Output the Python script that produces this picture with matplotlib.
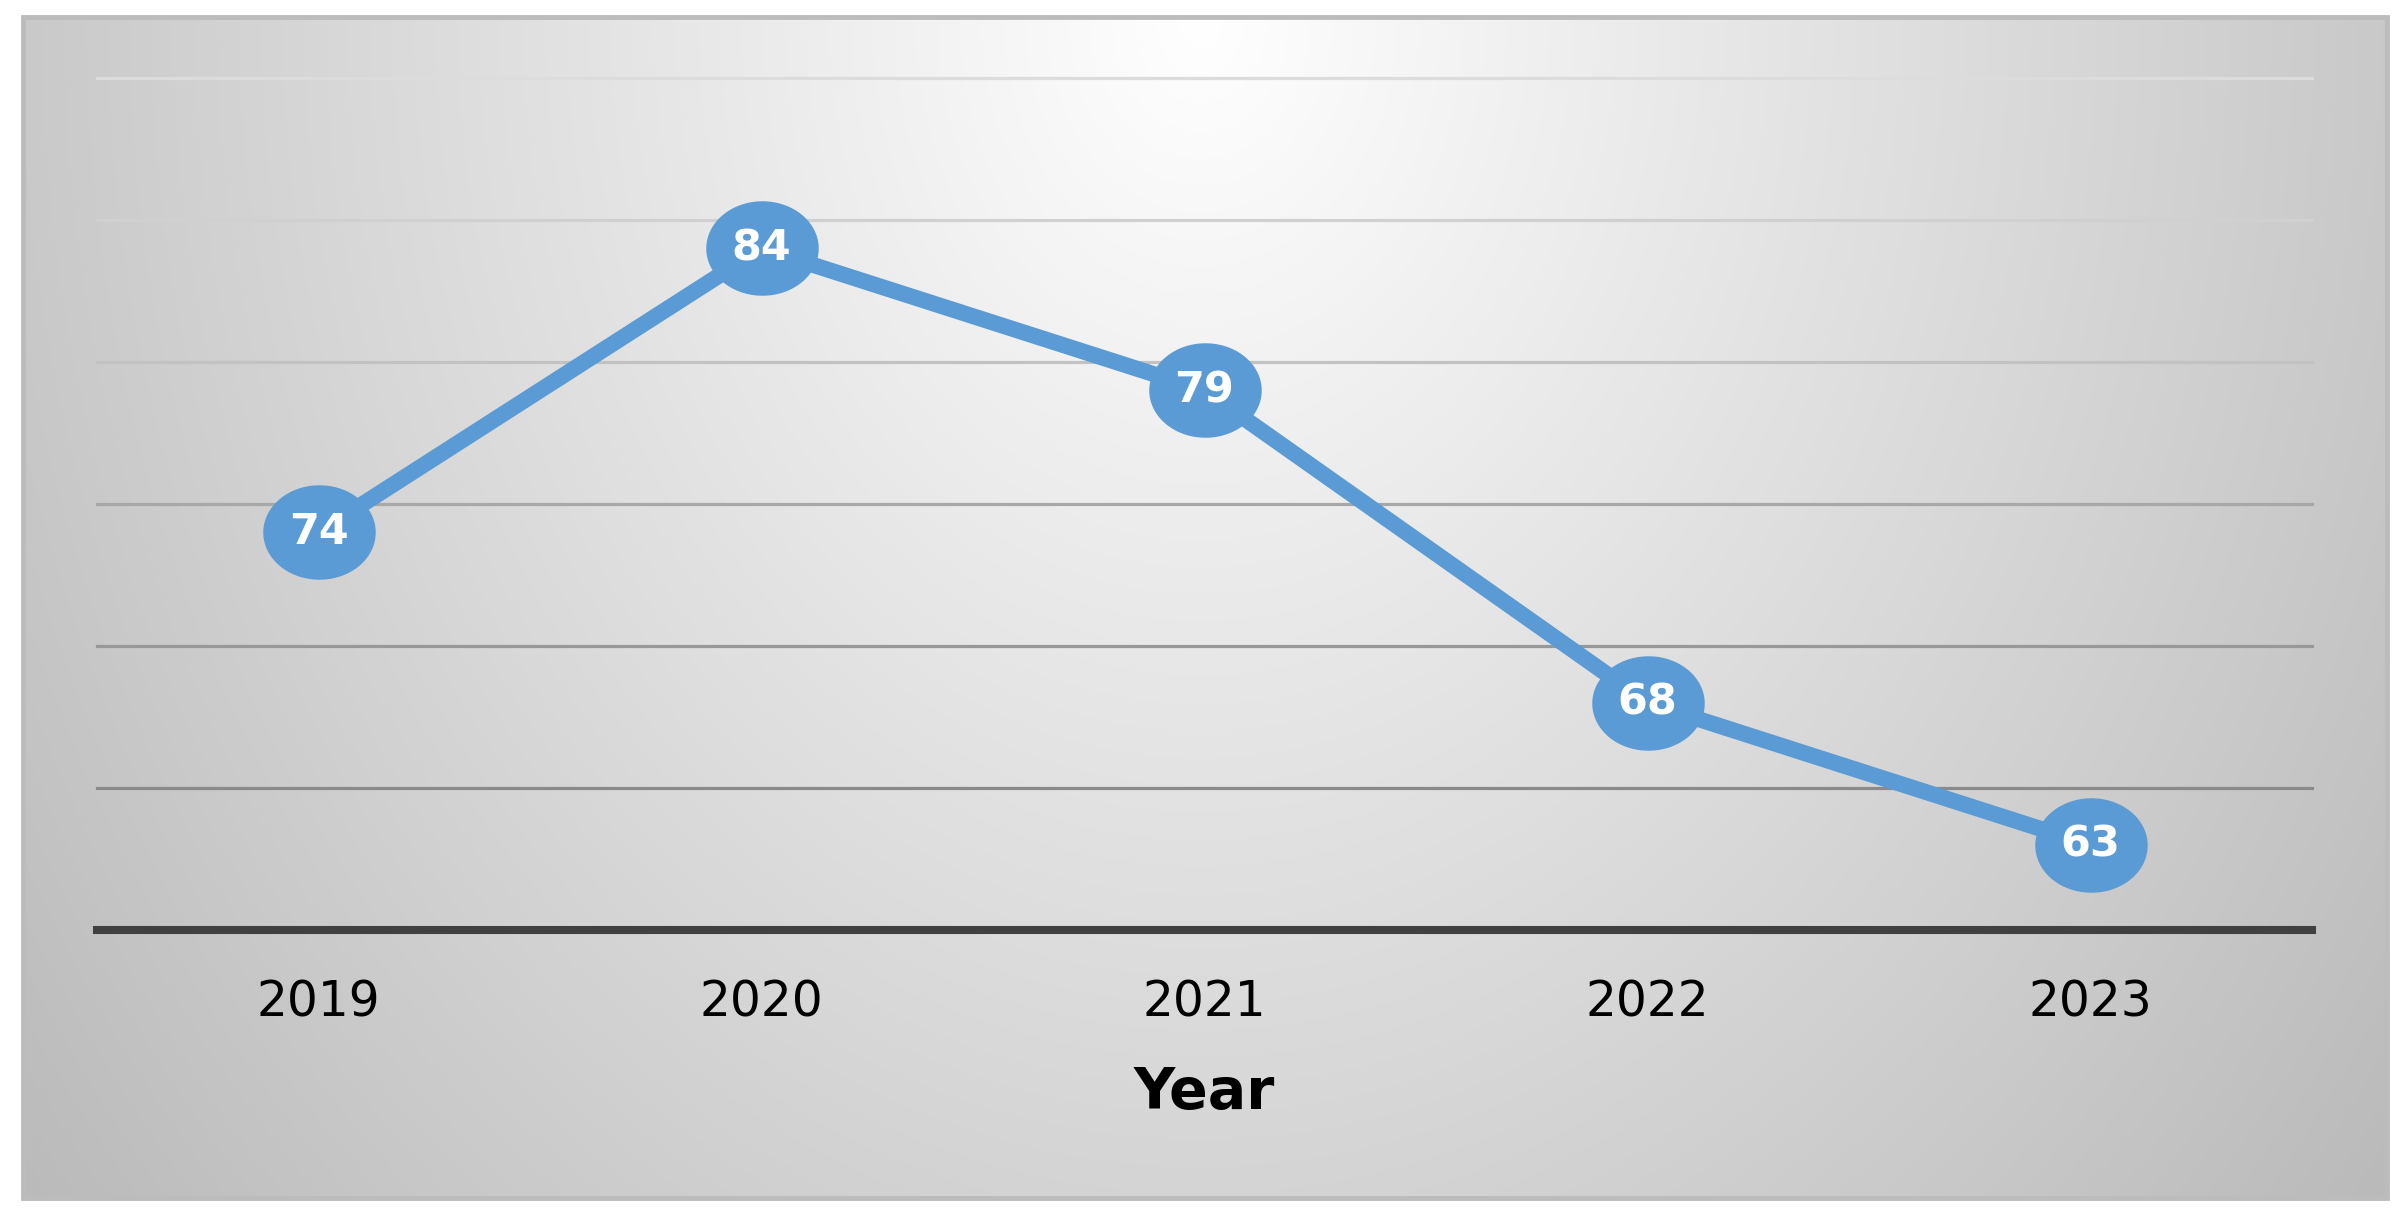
import numpy as np
import matplotlib
matplotlib.use("Agg")
import matplotlib.pyplot as plt
from matplotlib.path import Path
from matplotlib.patches import Rectangle

years = ["2019", "2020", "2021", "2022", "2023"]
values = [74, 84, 79, 68, 63]
x_label = "Year"
grid_levels = [65, 70, 75, 80, 85, 90]
grid_colors = ["#8a8a8a", "#989898", "#a8a8a8", "#c2c2c2", "#d0d0d0", "#dcdcdc"]

W, H, DPI = 2408, 1212, 100
fig = plt.figure(figsize=(W / DPI, H / DPI), dpi=DPI)
fig.patch.set_facecolor("white")

# panel with radial gradient background
px0, px1, py0, py1 = 23, 2387, 17, 1198
bg = fig.add_axes([px0 / W, 1 - py1 / H, (px1 - px0) / W, (py1 - py0) / H])
bg.set_axis_off()
nx, ny = 600, 300
xx, yy = np.meshgrid(np.linspace(px0, px1, nx), np.linspace(py0, py1, ny))
cx, cy = 1200, 20
r = np.sqrt(((xx - cx) / 1400) ** 2 + ((yy - cy) / 1750) ** 2)
v = np.clip(255 - 64 * r, 0, 255) / 255.0
img = np.dstack([v, v, v])
bg.imshow(img, aspect="auto", extent=[0, 1, 0, 1], origin="upper", interpolation="bilinear")
bg.set_xlim(0, 1)
bg.set_ylim(0, 1)
bg.add_patch(Rectangle((0, 0), 1, 1, transform=bg.transAxes, fill=False,
                       edgecolor="#bcbcbc", linewidth=3.5, clip_on=False))

# main axes
ax = fig.add_axes([97 / W, 1 - 930 / H, (2312 - 97) / W, (930 - 78) / H])
ax.patch.set_alpha(0)
ax.set_xlim(-0.5, 4.5)
ax.set_ylim(60, 90)
for lvl, c in zip(grid_levels, grid_colors):
    ax.axhline(lvl, color=c, linewidth=2.3, zorder=1, clip_on=False)
for s in ["top", "right", "left"]:
    ax.spines[s].set_visible(False)
ax.spines["bottom"].set_color("#404040")
ax.spines["bottom"].set_linewidth(5.8)
ax.set_yticks([])
xs = np.arange(len(years))
ax.set_xticks(xs)
ax.set_xticklabels(years, fontsize=35, family="DejaVu Sans", color="black")
ax.tick_params(axis="x", length=0, pad=35)
ax.set_xlabel(x_label, fontsize=41, fontweight="bold", family="DejaVu Sans", labelpad=28)

# ellipse marker
t = np.linspace(0, 2 * np.pi, 100)
ell = Path(np.column_stack([np.cos(t) * 111, np.sin(t) * 93]), closed=True)
color = "#5b9bd5"
ax.plot(xs, values, color=color, linewidth=11.5, zorder=3, solid_capstyle="round", clip_on=False)
ax.plot(xs, values, linestyle="none", marker=ell, markersize=80, markerfacecolor=color,
        markeredgecolor=color, zorder=4, clip_on=False)
for xi, val in zip(xs, values):
    ax.text(xi, val, str(val), ha="center", va="center", color="white", fontsize=31,
            fontweight="bold", family="DejaVu Sans", zorder=5)

fig.savefig("out.png", dpi=DPI, facecolor="white")
